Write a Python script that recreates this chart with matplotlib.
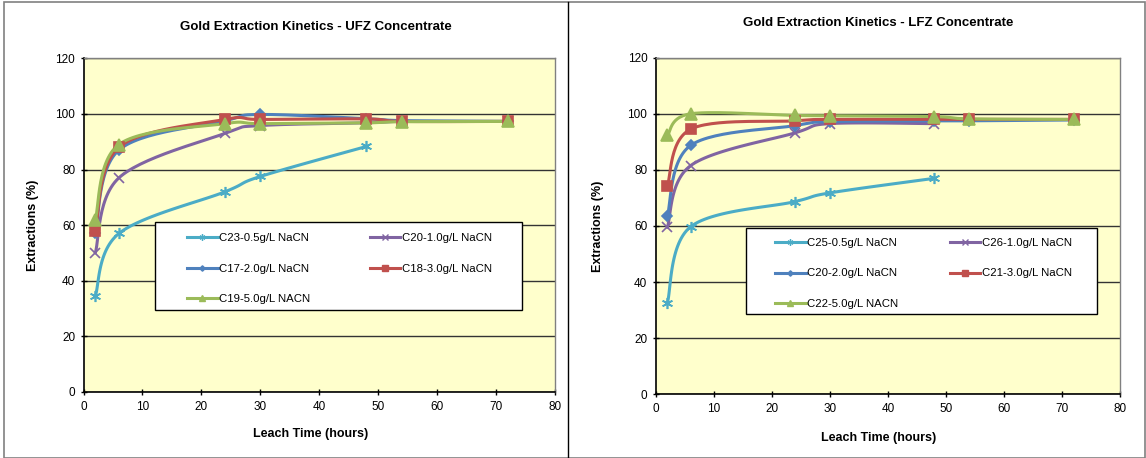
import numpy as np
import matplotlib
matplotlib.use('Agg')
import matplotlib.pyplot as plt
from matplotlib.patches import Rectangle
from matplotlib.lines import Line2D

plt.rcParams['font.family'] = ['Liberation Sans', 'DejaVu Sans']

W, H = 1146, 458

# UFZ concentrate (left chart)
ufz_labels = ['C23-0.5g/L NaCN', 'C20-1.0g/L NaCN', 'C17-2.0g/L NaCN',
              'C18-3.0g/L NaCN', 'C19-5.0g/L NACN']
ufz_x = [[2, 6, 24, 30, 48],
         [2, 6, 24, 30, 48, 54, 72],
         [2, 6, 24, 30, 48, 54, 72],
         [2, 6, 24, 30, 48, 54, 72],
         [2, 6, 24, 30, 48, 54, 72]]
ufz_y = [[34.5, 57, 72, 77.5, 88.3],
         [50, 77, 93, 95.8, 96.8, 97.3, 97.3],
         [57, 87, 97.5, 99.8, 98.3, 97.6, 97.3],
         [58, 88, 98, 98, 98.2, 97.3, 97.3],
         [62, 89, 96.5, 96.5, 96.8, 97.2, 97.3]]

# LFZ concentrate (right chart)
lfz_labels = ['C25-0.5g/L NaCN', 'C26-1.0g/L NaCN', 'C20-2.0g/L NaCN',
              'C21-3.0g/L NaCN', 'C22-5.0g/L NACN']
lfz_x = [[2, 6, 24, 30, 48],
         [2, 6, 24, 30, 48],
         [2, 6, 24, 30, 48, 54, 72],
         [2, 6, 24, 30, 48, 54, 72],
         [2, 6, 24, 30, 48, 54, 72]]
lfz_y = [[32.5, 59.7, 68.7, 71.8, 77],
         [59.5, 81.5, 93.2, 96.5, 96.5],
         [63.5, 88.7, 95.8, 97.2, 97.5, 97.5, 97.8],
         [74.3, 94.5, 97.5, 98, 98, 98, 98],
         [92.3, 100, 99.4, 99.3, 99, 98.2, 98]]

colors = ['#4BACC6', '#8064A2', '#4F81BD', '#C0504D', '#9BBB59']
markers = [(6, 2, 0), 'x', 'D', 's', '^']
msizes = [8, 7, 5, 7, 8]


def smooth(xs, ys, n=30):
    # Excel-like smoothed line (Catmull-Rom as cubic bezier)
    p = np.column_stack([xs, ys]).astype(float)
    p = np.vstack([p[0], p, p[-1]])
    out = []
    t = np.linspace(0, 1, n)[:, None]
    for i in range(1, len(p) - 2):
        p0, p1, p2, p3 = p[i - 1], p[i], p[i + 1], p[i + 2]
        c1 = p1 + (p2 - p0) / 6
        c2 = p2 - (p3 - p1) / 6
        seg = ((1 - t) ** 3) * p1 + 3 * ((1 - t) ** 2) * t * c1 + 3 * (1 - t) * t ** 2 * c2 + t ** 3 * p2
        out.append(seg)
    out = np.vstack(out)
    return out[:, 0], out[:, 1]


def fx(px):
    return px / W


def fy(py):
    return 1 - py / H


fig = plt.figure(figsize=(W / 100, H / 100), dpi=100)

# chart area borders
fig.add_artist(Rectangle((fx(4), 0), 1 - fx(5), 1 - 2 / H, transform=fig.transFigure,
                         fill=False, edgecolor='#808080', lw=1.2))
fig.add_artist(Line2D([fx(568), fx(568)], [0, 1 - 2 / H], transform=fig.transFigure,
                      color='black', lw=1.0))


def draw(box, xs_all, ys_all, labels, title, title_xy, xlab_y, ylab_x, leg_box, leg_rows):
    l, t, r, b = box
    ax = fig.add_axes([fx(l), fy(b), fx(r) - fx(l), (b - t) / H])
    ax.set_facecolor('#FFFFCC')
    handles = []
    for xs, ys, c, m, ms, lab in zip(xs_all, ys_all, colors, markers, msizes, labels):
        sx, sy = smooth(xs, ys)
        ax.plot(sx, sy, color=c, lw=2.2, solid_capstyle='round', zorder=3)
        ax.plot(xs, ys, ls='none', marker=m, ms=ms, color=c, mec=c, mew=1.2, zorder=4)
        handles.append(Line2D([], [], color=c, lw=2.2, marker=m, ms=ms * 0.55, mec=c, label=lab))
    ax.set_xlim(0, 80)
    ax.set_ylim(0, 120)
    ax.set_xticks(np.arange(0, 81, 10))
    ax.set_yticks(np.arange(0, 121, 20))
    ax.yaxis.grid(True, color='#333333', lw=1.0)
    ax.set_axisbelow(True)
    ax.tick_params(labelsize=8.5, direction='inout', length=5, width=1, colors='black')
    ax.tick_params(axis='x', pad=4)
    for s in ['left', 'bottom']:
        ax.spines[s].set_color('black')
        ax.spines[s].set_linewidth(1.2)
    for s in ['top', 'right']:
        ax.spines[s].set_color('#808080')
        ax.spines[s].set_linewidth(1.0)
    fig.text(fx(title_xy[0]), fy(title_xy[1]), title, ha='center', va='center',
             fontsize=9.5, fontweight='bold')
    fig.text(fx((l + r) / 2 - 9), fy(xlab_y), 'Leach Time (hours)', ha='center', va='center',
             fontsize=9, fontweight='bold')
    fig.text(fx(ylab_x), fy((t + b) / 2), 'Extractions (%)', ha='center', va='center',
             rotation=90, fontsize=9, fontweight='bold')

    # legend box
    bl, bt, br, bb = leg_box
    ax.add_patch(Rectangle((fx(bl), fy(bb)), fx(br) - fx(bl), (bb - bt) / H,
                           transform=fig.transFigure, facecolor='white', edgecolor='black',
                           lw=1.0, zorder=5, clip_on=False))
    order = [0, 2, 4, 1, 3]
    c1, c2, r1 = leg_rows
    leg = ax.legend([handles[i] for i in order], [labels[i] for i in order], ncol=2,
                    bbox_to_anchor=(fx(c1), fy(r1), fx(c2) - fx(c1), 0),
                    bbox_transform=fig.transFigure, loc='upper left',
                    mode='expand', fontsize=8.2, handlelength=2.7, labelspacing=1.8,
                    handletextpad=0.15, borderaxespad=0, borderpad=0, frameon=False)
    leg.set_zorder(6)
    return ax


draw((83.5, 58.3, 555, 392), ufz_x, ufz_y, ufz_labels,
     'Gold Extraction Kinetics - UFZ Concentrate', (316, 27), 434, 33,
     (155, 222, 522, 310), (187, 492, 233))

draw((655.7, 57.7, 1120, 394.3), lfz_x, lfz_y, lfz_labels,
     'Gold Extraction Kinetics - LFZ Concentrate', (878, 23), 438, 598,
     (746, 228, 1097, 314), (775, 1072, 238))

fig.savefig('out.png', dpi=100)
